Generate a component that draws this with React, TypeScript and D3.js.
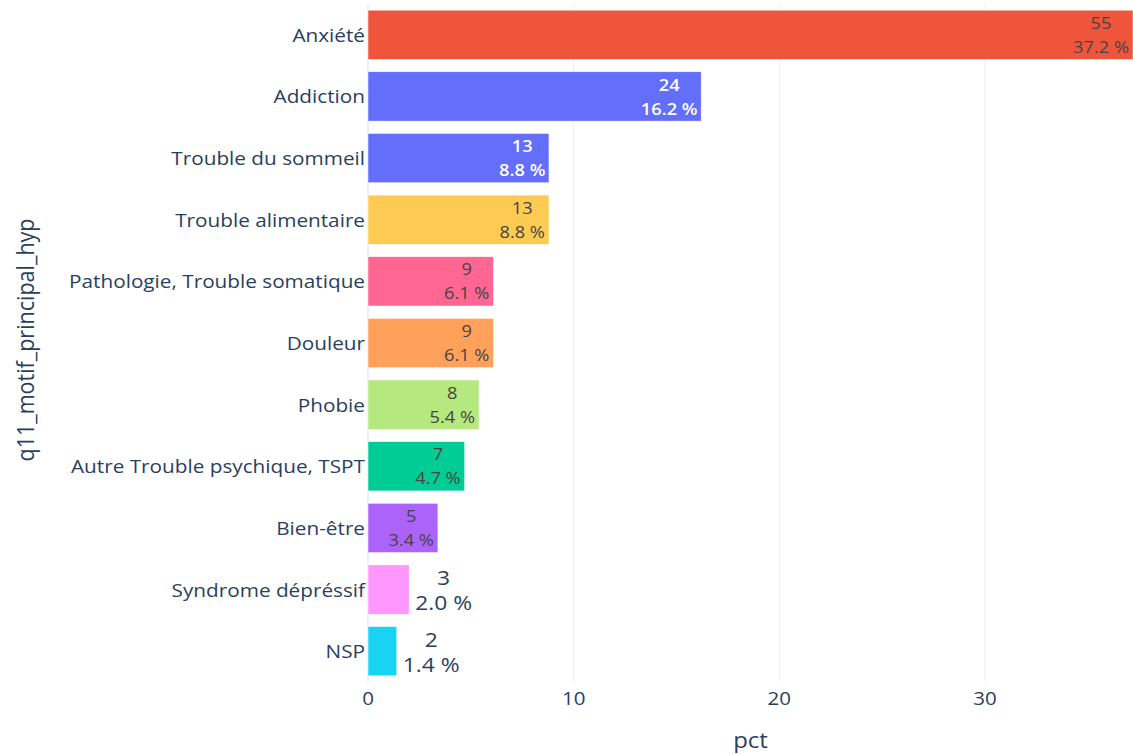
import React from "react";
import * as d3 from "d3";

const categories = [
  "Anxiété",
  "Addiction",
  "Trouble du sommeil",
  "Trouble alimentaire",
  "Pathologie, Trouble somatique",
  "Douleur",
  "Phobie",
  "Autre Trouble psychique, TSPT",
  "Bien-être",
  "Syndrome dépréssif",
  "NSP",
];
const counts = [55, 24, 13, 13, 9, 9, 8, 7, 5, 3, 2];
const pcts = [37.2, 16.2, 8.8, 8.8, 6.1, 6.1, 5.4, 4.7, 3.4, 2.0, 1.4];
const colors = [
  "#EF553B",
  "#636EFA",
  "#636EFA",
  "#FECB52",
  "#FF6692",
  "#FFA15A",
  "#B6E880",
  "#00CC96",
  "#AB63FA",
  "#FF97FF",
  "#19D3F3",
];
const xTicks = [0, 10, 20, 30];
const xTitle = "pct";
const yTitle = "q11_motif_principal_hyp";

const W = 1133;
const H = 755;
const M = { left: 368, right: 0, top: 4, bottom: 73 };
const FONT = "'Open Sans', sans-serif";
const TEXT = "#2a3f5f";
const SX = 1.14; // horizontal glyph stretch

function luminance(hex: string) {
  const c = d3.rgb(hex);
  return (0.299 * c.r + 0.587 * c.g + 0.114 * c.b) / 255;
}

function textWidth(s: string, size: number) {
  let w = 0;
  for (const ch of s) {
    if (/[0-9]/.test(ch)) w += 0.572;
    else if (ch === ".") w += 0.267;
    else if (ch === " ") w += 0.26;
    else if (ch === "%") w += 0.823;
    else w += 0.55;
  }
  return w * size * SX;
}

function HText(props: {
  x: number;
  y: number;
  anchor: "start" | "middle" | "end";
  size: number;
  fill: string;
  weight?: number;
  children: React.ReactNode;
}) {
  return (
    <text
      transform={`translate(${props.x},${props.y}) scale(${SX},1)`}
      textAnchor={props.anchor}
      dominantBaseline="central"
      fontSize={props.size}
      fill={props.fill}
      fontWeight={props.weight ?? 400}
    >
      {props.children}
    </text>
  );
}

export default function App() {
  const x = d3
    .scaleLinear()
    .domain([0, d3.max(pcts) as number])
    .range([M.left, W - M.right]);
  const y = d3
    .scaleBand<string>()
    .domain(categories)
    .range([M.top, H - M.bottom])
    .paddingInner(0.2)
    .paddingOuter(0.1);
  const plotTop = M.top;
  const plotBottom = H - M.bottom;

  const inSize = 16;
  const outSize = 20;

  return (
    <svg
      width={W}
      height={H}
      style={{ position: "absolute", left: 0, top: 0, background: "#fff" }}
      fontFamily={FONT}
    >
      {xTicks.map((t) => (
        <line
          key={"g" + t}
          x1={x(t)}
          x2={x(t)}
          y1={plotTop}
          y2={plotBottom}
          stroke="#EBF0F8"
          strokeWidth={t === 0 ? 2 : 1}
        />
      ))}
      {categories.map((c, i) => {
        const y0 = y(c) as number;
        const bh = y.bandwidth();
        const x0 = x(0);
        const x1 = x(pcts[i]);
        const bw = x1 - x0;
        const l1 = String(counts[i]);
        const l2 = pcts[i].toFixed(1) + " %";
        const tw = Math.max(textWidth(l1, inSize), textWidth(l2, inSize));
        const inside = bw > tw + 10;
        const cy = y0 + bh / 2;
        let tx: number, size: number, fill: string, dy: number, weight: number;
        if (inside) {
          size = inSize;
          tx = x1 - 4 - tw / 2;
          const dark = luminance(colors[i]) < 0.5;
          fill = dark ? "#ffffff" : "#444444";
          weight = dark ? 600 : 400;
          dy = 12;
        } else {
          size = outSize;
          const two = Math.max(textWidth(l1, outSize), textWidth(l2, outSize));
          tx = x1 + 6 + two / 2;
          fill = TEXT;
          weight = 400;
          dy = 12.5;
        }
        return (
          <g key={c}>
            <rect
              x={x0}
              y={y0}
              width={bw}
              height={bh}
              fill={colors[i]}
              stroke="#ffffff"
              strokeWidth={0.5}
            />
            <HText x={tx} y={cy - dy} anchor="middle" size={size} fill={fill} weight={weight}>
              {l1}
            </HText>
            <HText x={tx} y={cy + dy} anchor="middle" size={size} fill={fill} weight={weight}>
              {l2}
            </HText>
            <HText x={x0 - 3} y={cy} anchor="end" size={18.2} fill={TEXT}>
              {c}
            </HText>
          </g>
        );
      })}
      {xTicks.map((t) => (
        <HText key={"t" + t} x={x(t)} y={plotBottom + 16} anchor="middle" size={18} fill={TEXT}>
          {t}
        </HText>
      ))}
      <HText x={(M.left + W - M.right) / 2} y={740} anchor="middle" size={21} fill={TEXT}>
        {xTitle}
      </HText>
      <text
        transform={`translate(24, 340) rotate(-90) scale(1,${SX})`}
        textAnchor="middle"
        dominantBaseline="central"
        fontSize={21.5}
        fill={TEXT}
      >
        {yTitle}
      </text>
    </svg>
  );
}
